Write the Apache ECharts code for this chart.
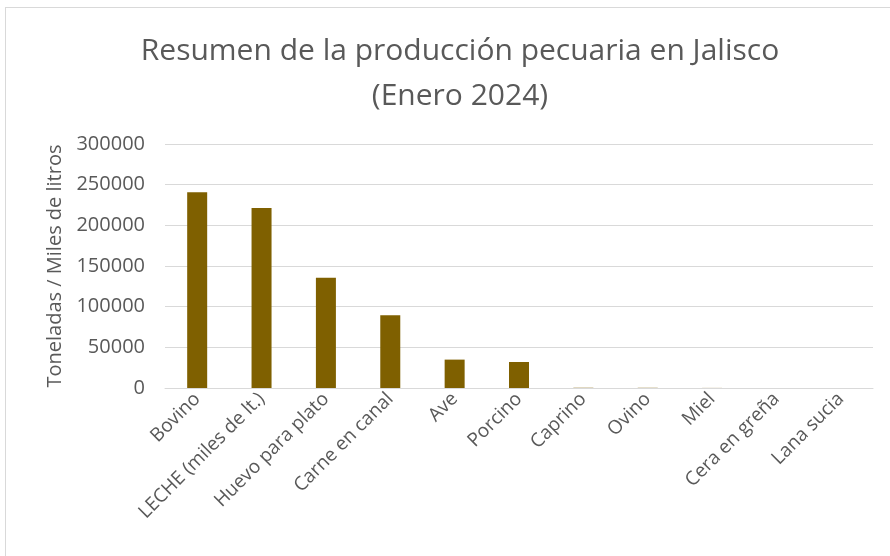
<!DOCTYPE html>
<html>
<head>
<meta charset="utf-8">
<script src="https://cdn.jsdelivr.net/npm/echarts@6/dist/echarts.min.js"></script>
<style>
	html, body { margin: 0; padding: 0; background: #fff; }
	#chart { width: 890px; height: 556px; position: relative; }
	#frame { position: absolute; left: 5px; top: 7px; width: 900px; height: 600px; border-left: 1px solid #d9d9d9; border-top: 1px solid #d9d9d9; }
</style>
</head>
<body>
<div id="frame"></div>
<div id="chart"></div>
<script>
var categories = ['Bovino', 'LECHE (miles de lt.)', 'Huevo para plato', 'Carne en canal', 'Ave', 'Porcino', 'Caprino', 'Ovino', 'Miel', 'Cera en greña', 'Lana sucia'];
var values = [240600, 221400, 135500, 89600, 34900, 32000, 300, 250, 100, 5, 5];
var yTicks = { min: 0, max: 300000, interval: 50000 };

var myChart = echarts.init(document.getElementById('chart'));
var option = {
	title: {
		text: 'Resumen de la producción pecuaria en Jalisco\n(Enero 2024)',
		left: 455,
		textAlign: 'center',
		top: 24,
		textStyle: {
			color: '#595959',
			fontFamily: 'Open Sans',
			fontSize: 30,
			fontWeight: 'normal',
			lineHeight: 45
		}
	},
	grid: {
		left: 165,
		right: 17,
		top: 144,
		bottom: 168
	},
	xAxis: {
		type: 'category',
		data: categories,
		axisTick: { show: false },
		axisLine: { lineStyle: { color: '#d9d9d9', width: 1 } },
		axisLabel: {
			rotate: 45,
			interval: 0,
			color: '#595959',
			fontFamily: 'Open Sans',
			fontSize: 19,
			margin: 8
		}
	},
	yAxis: {
		type: 'value',
		min: yTicks.min,
		max: yTicks.max,
		interval: yTicks.interval,
		name: 'Toneladas / Miles de litros',
		nameLocation: 'middle',
		nameGap: 100,
		nameTextStyle: {
			color: '#595959',
			fontFamily: 'Open Sans',
			fontSize: 20
		},
		axisLine: { show: false },
		axisTick: { show: false },
		axisLabel: {
			color: '#595959',
			fontFamily: 'Open Sans',
			fontSize: 20,
			margin: 20,
			formatter: function(v) { return String(v); }
		},
		splitLine: { lineStyle: { color: '#d9d9d9', width: 1 } }
	},
	series: [{
		type: 'bar',
		data: values,
		barWidth: 20,
		itemStyle: { color: '#7f6000' }
	}]
};
myChart.setOption(option);
</script>
</body>
</html>
